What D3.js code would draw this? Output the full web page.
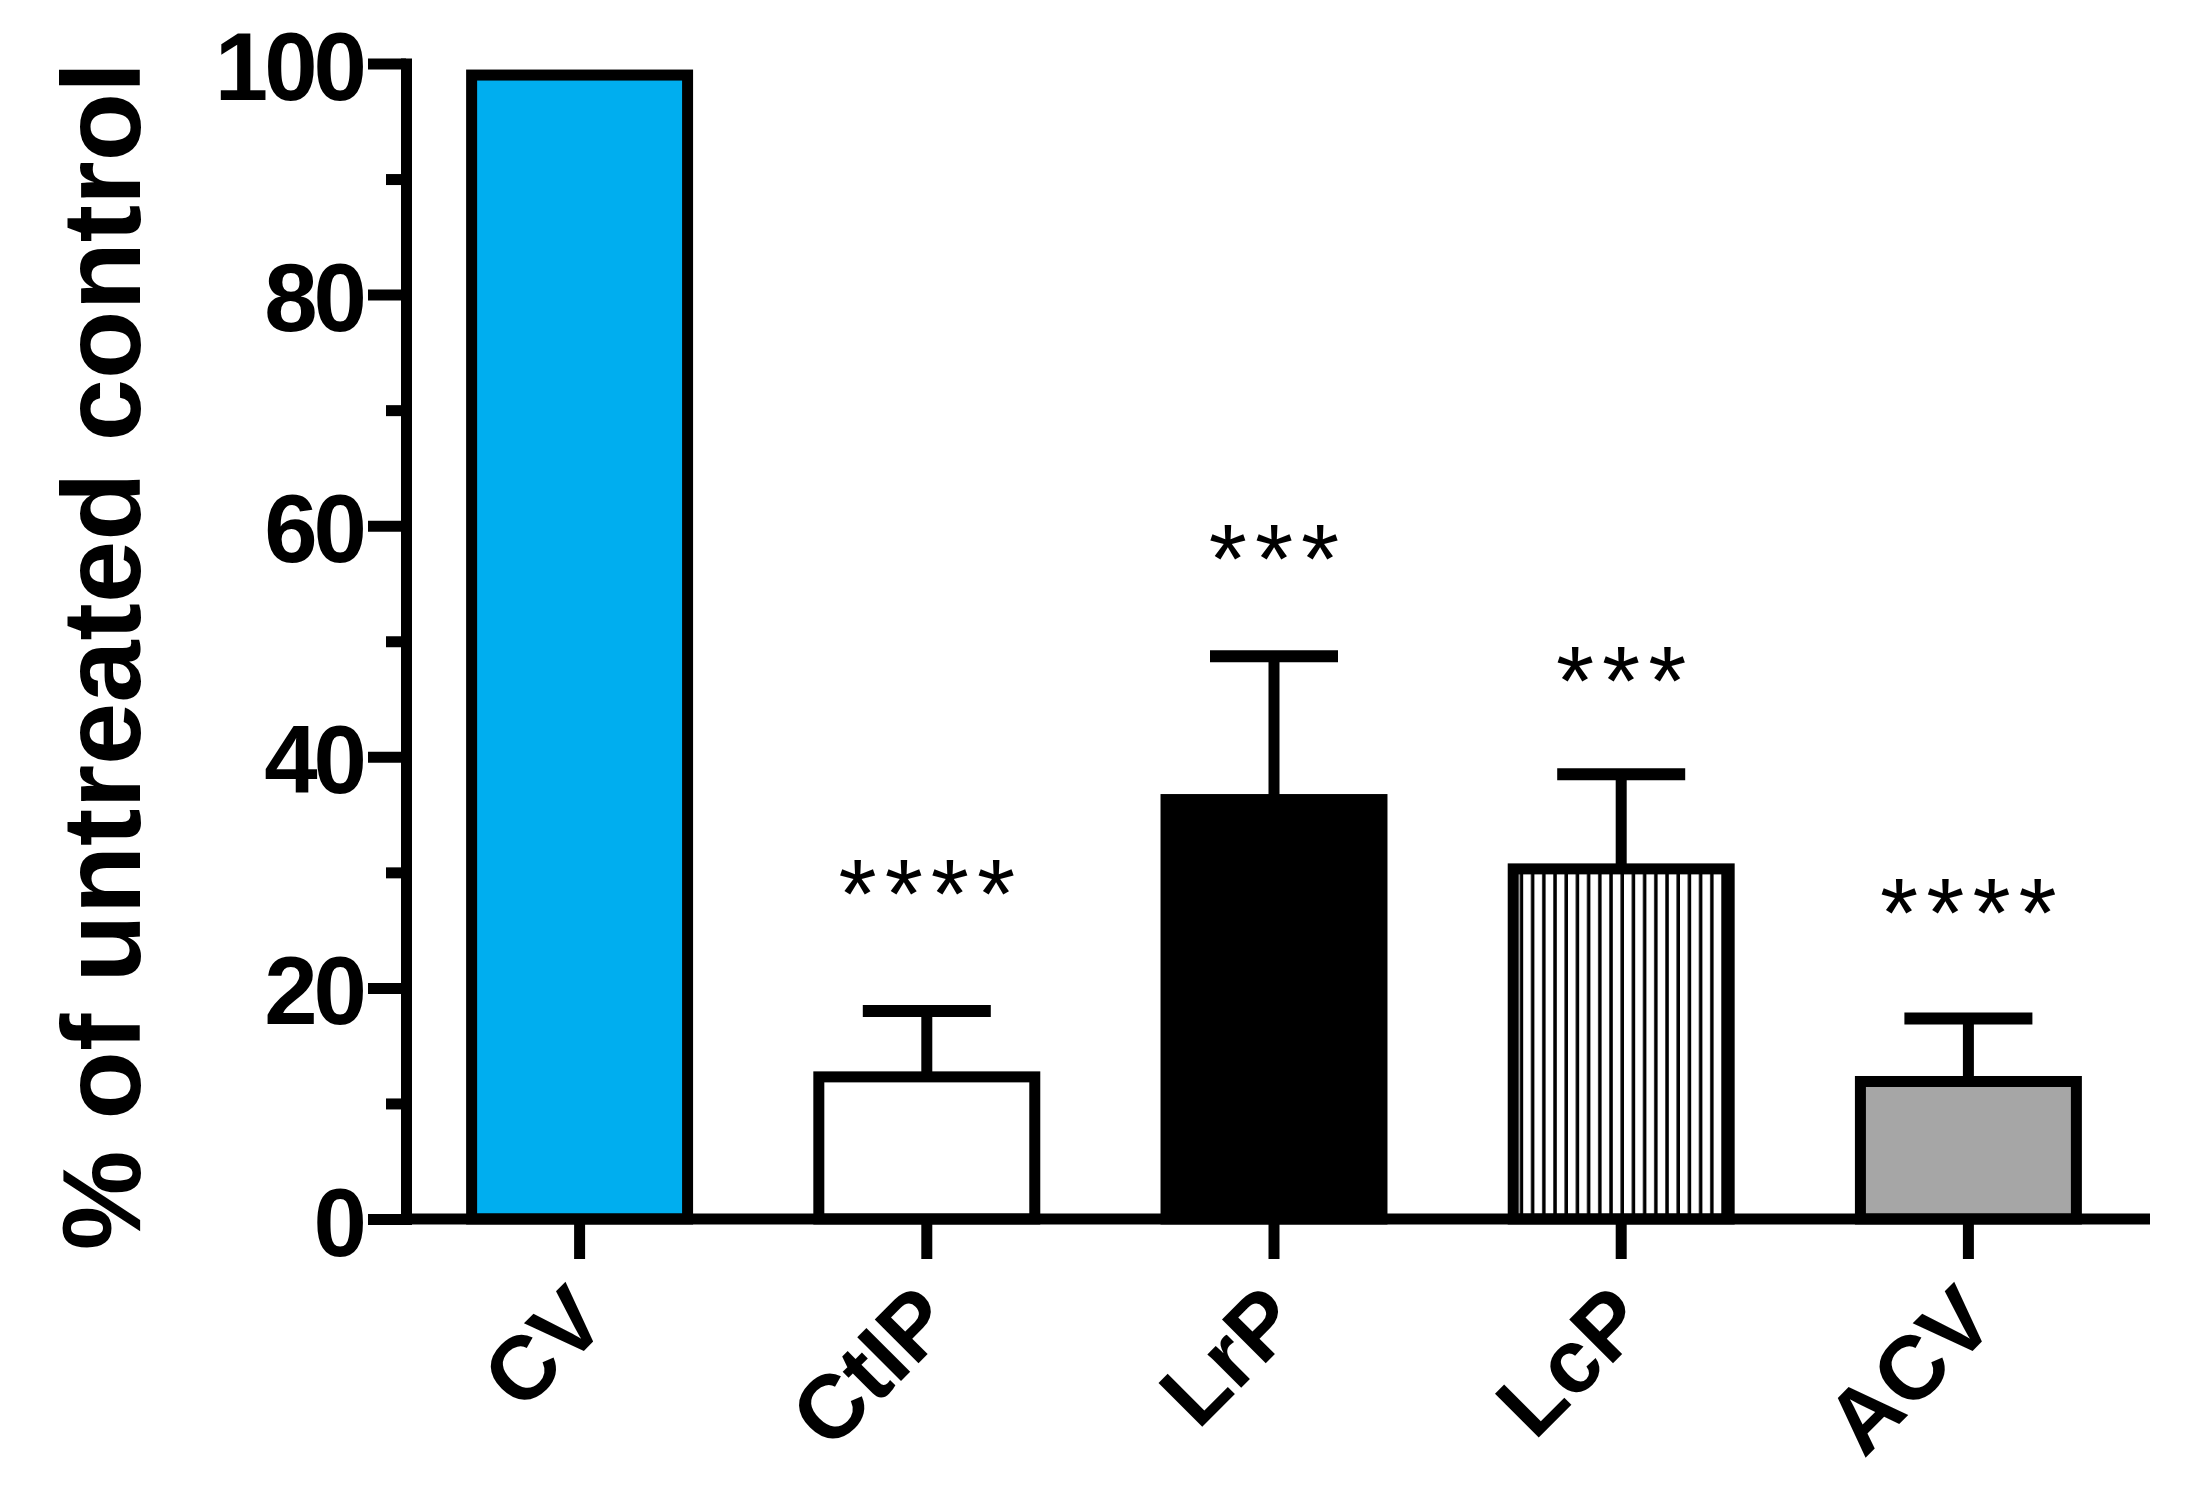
<!DOCTYPE html>
<html>
<head>
<meta charset="utf-8">
<script src="https://cdn.jsdelivr.net/npm/d3@7"></script>
<style>
  body { margin: 0; background: #fff; }
  svg { display: block; }
  text { font-family: "Liberation Sans", Arial, sans-serif; }
</style>
</head>
<body>
<div id="chart"></div>
<script>
// values
const categories = ["CV", "CtIP", "LrP", "LcP", "ACV"]
const means      = [99, 12.3, 36.3, 30.3, 11.9]
const errorTops  = [null, 18.0, 48.7, 38.5, 17.35]
const stars      = ["", "****", "***", "***", "****"]
const starLevels = [null, 29.3, 58.3, 47.8, 27.7]
const yTicks     = [0, 20, 40, 60, 80, 100]
const yMinorTicks = [10, 30, 50, 70, 90]
const fills = ["#00AEEF", "#FFFFFF", "#000000", "url(#stripes)", "#A6A6A6"]

const W = 2192, H = 1492
const lw = 11

const svg = d3.select("#chart").append("svg")
    .attr("width", W)
    .attr("height", H)
    .attr("viewBox", `0 0 ${W} ${H}`)

svg.append("rect").attr("width", W).attr("height", H).attr("fill", "#fff")

// vertical stripes for LcP
const pat = svg.append("defs").append("pattern")
    .attr("id", "stripes")
    .attr("patternUnits", "userSpaceOnUse")
    .attr("width", 11.2)
    .attr("height", 20)
pat.append("rect").attr("width", 11.2).attr("height", 20).attr("fill", "#fff")
pat.append("rect").attr("x", 7.7).attr("width", 3.5).attr("height", 20).attr("fill", "#000")

// scales
const x = d3.scaleBand()
    .domain(categories)
    .range([406, 2142])
    .paddingInner(0.378)
    .paddingOuter(0.189)
const y = d3.scaleLinear()
    .domain([0, 100])
    .range([1219, 63.5])

// bars
const g = svg.append("g")
g.selectAll("rect.bar")
    .data(categories)
  .enter().append("rect")
    .attr("class", "bar")
    .attr("x", d => x(d))
    .attr("width", x.bandwidth())
    .attr("y", (d, i) => y(means[i]))
    .attr("height", (d, i) => y(0) - y(means[i]))
    .attr("fill", (d, i) => fills[i])
    .attr("stroke", "#000")
    .attr("stroke-width", lw)

// error bars (upper only)
const capW = 128
const err = g.selectAll("g.err")
    .data(categories.filter((d, i) => errorTops[i] != null))
  .enter().append("g")
    .attr("class", "err")
err.append("line")
    .attr("x1", d => x(d) + x.bandwidth() / 2)
    .attr("x2", d => x(d) + x.bandwidth() / 2)
    .attr("y1", d => y(means[categories.indexOf(d)]))
    .attr("y2", d => y(errorTops[categories.indexOf(d)]))
    .attr("stroke", "#000").attr("stroke-width", lw)
err.append("line")
    .attr("x1", d => x(d) + x.bandwidth() / 2 - capW / 2)
    .attr("x2", d => x(d) + x.bandwidth() / 2 + capW / 2)
    .attr("y1", d => y(errorTops[categories.indexOf(d)]))
    .attr("y2", d => y(errorTops[categories.indexOf(d)]))
    .attr("stroke", "#000").attr("stroke-width", lw + 1)

// significance stars
const starSize = 98
g.selectAll("text.stars")
    .data(categories.filter((d, i) => stars[i]))
  .enter().append("text")
    .attr("class", "stars")
    .attr("x", d => x(d) + x.bandwidth() / 2 + 4)
    .attr("y", d => y(starLevels[categories.indexOf(d)]) + starSize * 0.49)
    .attr("text-anchor", "middle")
    .attr("font-size", starSize)
    .attr("letter-spacing", 8)
    .text(d => stars[categories.indexOf(d)])

// y axis
const yAxis = svg.append("g")
    .attr("transform", "translate(406,0)")
    .call(d3.axisLeft(y).tickValues(yTicks).tickSize(38).tickSizeOuter(0).tickPadding(2))
yAxis.select(".domain").attr("stroke-width", lw).attr("stroke-linecap", "square")
yAxis.selectAll(".tick line").attr("stroke-width", lw)
yAxis.selectAll(".tick text")
    .attr("font-size", 96)
    .attr("font-weight", "bold")
    .attr("letter-spacing", -4)
    .attr("fill", "#000")
    .attr("dy", 36)
    .attr("x", -43)
svg.append("g")
    .attr("transform", "translate(406,0)")
    .call(d3.axisLeft(y).tickValues(yMinorTicks).tickSize(20).tickFormat(""))
    .call(a => a.select(".domain").remove())
    .selectAll(".tick line").attr("stroke-width", lw)

// x axis
const xAxis = svg.append("g")
    .attr("transform", `translate(0,${y(0)})`)
    .call(d3.axisBottom(x).tickSize(40).tickSizeOuter(0).tickFormat(""))
xAxis.select(".domain")
    .attr("d", "M406,0H2150")
    .attr("stroke-width", lw)
xAxis.selectAll(".tick line").attr("stroke-width", lw)
xAxis.selectAll(".tick").append("text")
    .attr("transform", "translate(30,106) rotate(-45)")
    .attr("text-anchor", "end")
    .attr("font-size", 90)
    .attr("font-weight", "bold")
    .attr("fill", "#000")
    .text(d => d)

// y title
svg.append("text")
    .attr("transform", "translate(140,656) rotate(-90)")
    .attr("text-anchor", "middle")
    .attr("font-size", 112)
    .attr("font-weight", "bold")
    .text("% of untreated control")
</script>
</body>
</html>
